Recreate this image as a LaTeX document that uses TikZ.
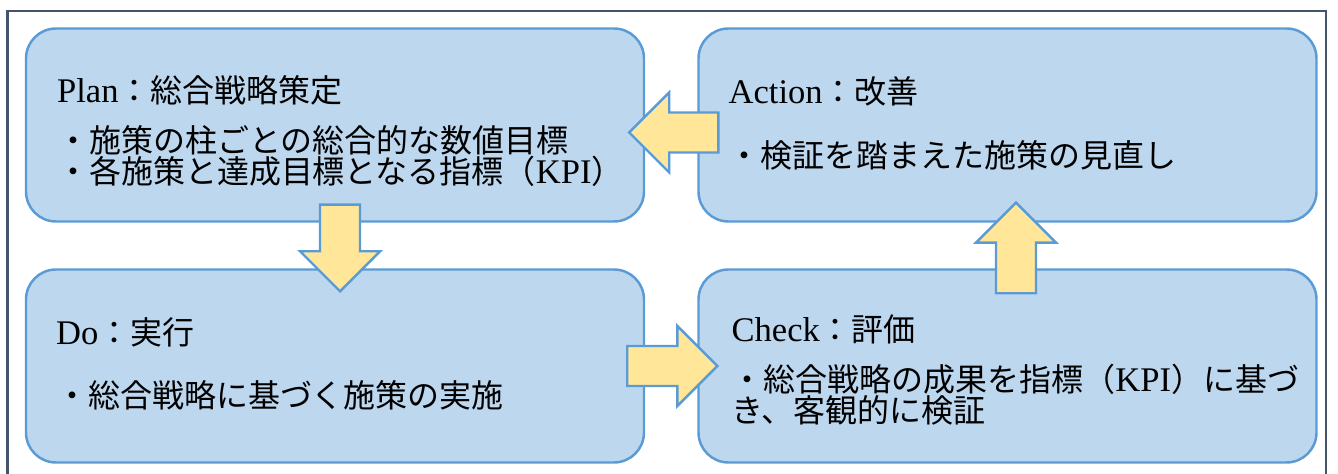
\documentclass[tikz,border=0pt]{standalone}
\usepackage{fontspec}
\setmainfont[Scale=1.08]{Liberation Serif}
\newfontfamily\jp{Noto Sans CJK JP}
\usepackage{tikz}
\usetikzlibrary{positioning}
\usetikzlibrary{calc}

\definecolor{boxfill}{HTML}{BDD7EE}
\definecolor{boxline}{HTML}{5B9BD5}
\definecolor{arrowfill}{HTML}{FFE699}
\definecolor{frameline}{HTML}{44546A}

\tikzset{
  phase/.style={draw=boxline, fill=boxfill, line width=1.4pt, rounded corners=0.6cm,
    minimum width=12.36cm, minimum height=3.86cm},
  fatarrow/.style={draw=boxline, fill=arrowfill, line width=1.4pt},
  head/.style={anchor=base west, inner sep=0},
  body/.style={anchor=north west, inner sep=0, align=left},
}

% block arrow from #1 to #2 (tip at #2)
\newcommand{\blockarrow}[2]{%
  \draw[fatarrow] let \p1=(#1), \p2=(#2),
    \n1={atan2(\y2-\y1,\x2-\x1)}, \n2={veclen(\x2-\x1,\y2-\y1)-0.8cm} in
    ($(\p1)+(\n1+90:0.4cm)$) -- ++(\n1:\n2) -- ++(\n1+90:0.4cm) -- (\p2)
    -- ($(\p2)+(\n1+180:0.8cm)+(\n1-90:0.8cm)$) -- ++(\n1+90:0.4cm)
    -- ($(\p1)+(\n1-90:0.4cm)$) -- cycle;}

\begin{document}
\begin{tikzpicture}[every node/.append style={font=\fontsize{18.2pt}{17.6pt}\selectfont}]
  \useasboundingbox (0,0) rectangle (26.76,9.48);
  \draw[frameline, line width=1.5pt] (0.15,-0.5) rectangle (26.52,9.26);

  %---------------- phases ----------------
  \node[phase] (plan) at (6.70,6.98) {};
  \node[phase] (act)  at (20.15,6.98) {};
  \node[phase] (do)   at (6.70,2.16) {};
  \node[phase] (chk)  at (20.15,2.16) {};

  \node[head] (plantitle) at ($(plan.north west)+(0.64,-1.5)$) {Plan{\jp ：総合戦略策定}};
  \node[body] (planbody) at ($(plan.north west)+(0.64,-1.96)$)
    {{\jp ・施策の柱ごとの総合的な数値目標}\\{\jp ・各施策と達成目標となる指標（}KPI{\jp ）}};

  \node[head] (acttitle) at ($(act.north west)+(0.62,-1.52)$) {Action{\jp ：改善}};
  \node[body] (actbody) at ($(act.north west)+(0.62,-2.26)$) {{\jp ・検証を踏まえた施策の見直し}};

  \node[head] (dotitle) at ($(do.north west)+(0.62,-1.52)$) {Do{\jp ：実行}};
  \node[body] (dobody) at ($(do.north west)+(0.62,-2.24)$) {{\jp ・総合戦略に基づく施策の実施}};

  \node[head] (chktitle) at ($(chk.north west)+(0.68,-1.46)$) {Check{\jp ：評価}};
  \node[body] (chkbody) at ($(chk.north west)+(0.68,-1.92)$)
    {{\jp ・総合戦略の成果を指標（}KPI{\jp ）に基づ}\\{\jp き、客観的に検証}};

  %---------------- arrows ----------------
  \blockarrow{$(plan.south)+(0.1,0.36)$}{$(do.north)+(0.1,-0.46)$}
  \blockarrow{$(do.east)+(-0.36,0)$}{$(chk.west)+(0.4,0)$}
  \blockarrow{$(chk.north)+(0.17,-0.5)$}{$(act.south)+(0.17,0.4)$}
  \blockarrow{$(act.west)+(0.42,-0.15)$}{$(plan.east)+(-0.32,-0.15)$}
\end{tikzpicture}
\end{document}
